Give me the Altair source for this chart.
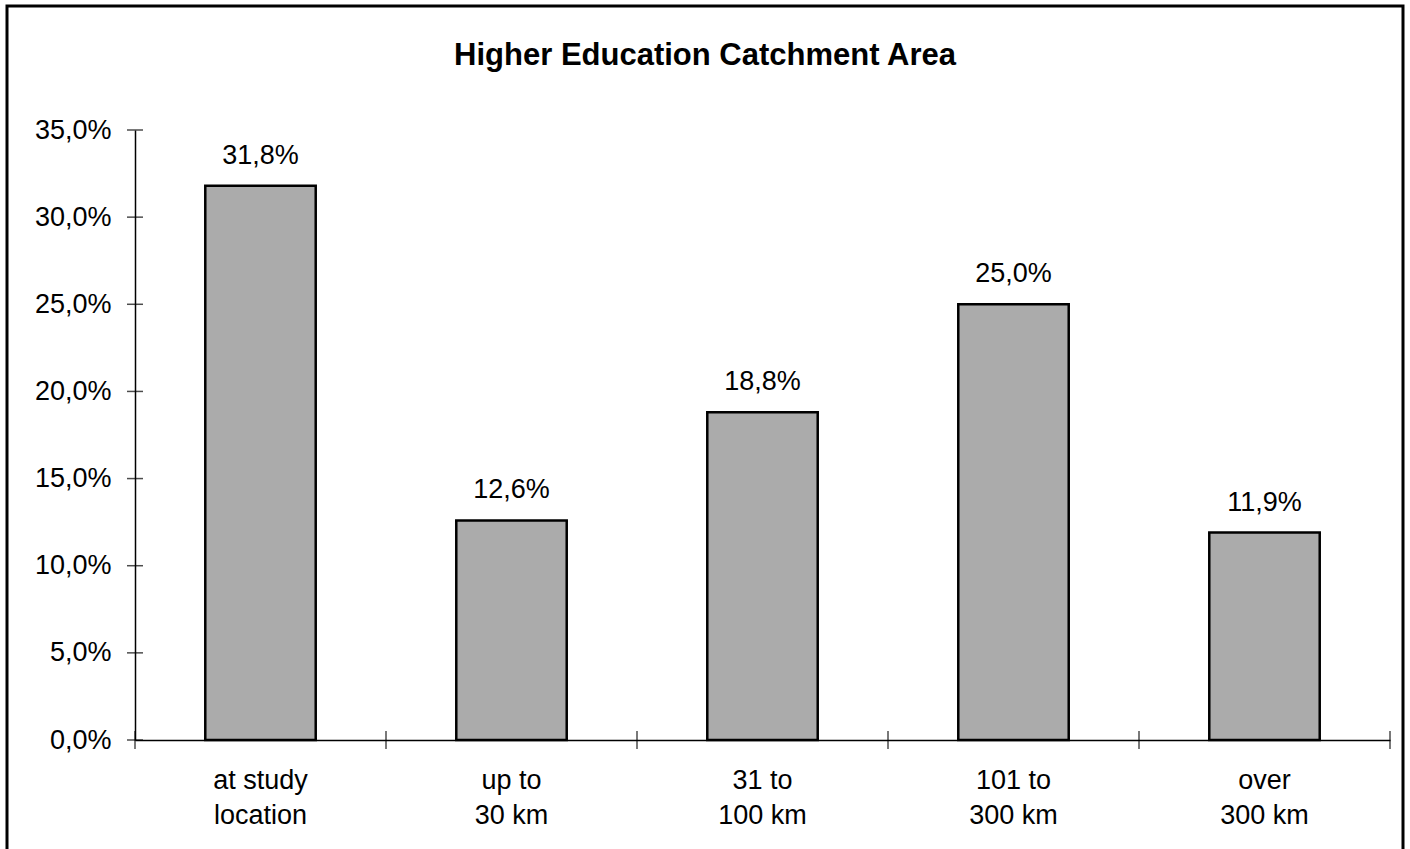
import altair as alt
import pandas as pd

categories = ["at study\nlocation", "up to\n30 km", "31 to\n100 km", "101 to\n300 km", "over\n300 km"]
values = [31.8, 12.6, 18.8, 25.0, 11.9]
y_ticks = [0, 5, 10, 15, 20, 25, 30, 35]
x_bounds = [0, 1, 2, 3, 4, 5]
title_text = ["Higher Education Catchment Area"]

FONT = "Liberation Sans"
W, H = 1255, 610

bars_df = pd.DataFrame({"cat": categories, "pct": values})
yt_df = pd.DataFrame({"pct": y_ticks})
xt_df = pd.DataFrame({"b": x_bounds})
title_df = pd.DataFrame({"t": title_text})

xband = alt.X(
    "cat:N", sort=categories,
    scale=alt.Scale(paddingInner=0.56, paddingOuter=0.28),
    axis=alt.Axis(title=None, labelAngle=0, ticks=False, domainColor="black", domainWidth=1.5,
                  labelExpr="split(datum.value, '\\n')", labelFont=FONT, labelFontSize=27,
                  labelColor="black", labelPadding=27, labelLineHeight=35),
)
yq = alt.Y(
    "pct:Q", scale=alt.Scale(domain=[0, 35], nice=False),
    axis=alt.Axis(title=None, values=y_ticks, ticks=False, grid=False, domainColor="black",
                  domainWidth=1.5, labelFont=FONT, labelFontSize=27, labelColor="black",
                  labelPadding=24,
                  labelExpr="replace(format(datum.value, '.1f'), '.', ',') + '%'"),
)

bars = alt.Chart(bars_df).mark_bar(color="#ababab", stroke="black", strokeWidth=2.5).encode(x=xband, y=yq)

labels = alt.Chart(bars_df).transform_calculate(
    lab="replace(format(datum.pct, '.1f'), '.', ',') + '%'"
).mark_text(font=FONT, fontSize=27, color="black", baseline="bottom", dy=-16).encode(
    x=alt.X("cat:N", sort=categories), y=yq, text="lab:N"
)

yticks = alt.Chart(yt_df).mark_tick(color="black", size=16, thickness=1.5).encode(
    y=yq, x=alt.value(0)
)

xticks = alt.Chart(xt_df).mark_tick(color="black", size=18, thickness=1.5, orient="vertical").encode(
    x=alt.X("b:Q", scale=alt.Scale(domain=[0, 5], nice=False), axis=None), y=alt.value(H)
)

frame = alt.Chart(title_df).mark_rect(fill=None, stroke="black", strokeWidth=3).encode(
    x=alt.value(-128), x2=alt.value(1268), y=alt.value(-124), y2=alt.value(740)
)

title = alt.Chart(title_df).mark_text(font=FONT, fontSize=31, fontWeight="bold", color="black",
                                      baseline="alphabetic").encode(
    text="t:N", x=alt.value(570), y=alt.value(-65)
)

main = alt.layer(bars, labels, yticks)
chart = alt.layer(frame, title, main, xticks).resolve_scale(x="independent").properties(
    width=W, height=H,
    background="white",
    autosize=alt.AutoSizeParams(type="none"),
    padding={"left": 135, "top": 130, "right": 20, "bottom": 109},
).configure_view(stroke="transparent", strokeWidth=0)

chart.save("out.html", embed_options={"renderer": "svg", "actions": False})
